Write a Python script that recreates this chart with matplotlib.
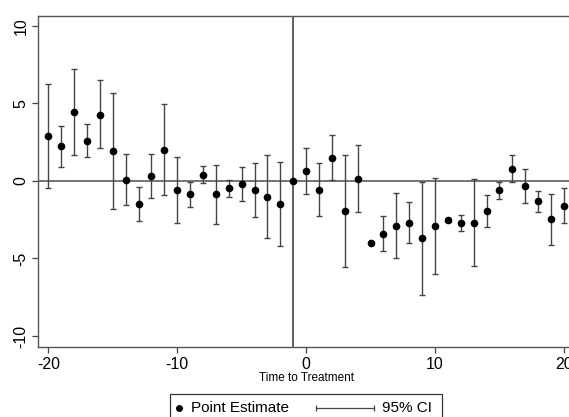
import numpy as np
import matplotlib
matplotlib.use("Agg")
import matplotlib.pyplot as plt
from matplotlib.lines import Line2D
from matplotlib.patches import Rectangle

plt.rcParams['font.family'] = ['Liberation Sans', 'DejaVu Sans']
plt.rcParams['axes.unicode_minus'] = False

# event-study estimates
t = np.arange(-20, 21)
est = [2.90, 2.25, 4.44, 2.60, 4.27, 1.93, 0.09, -1.46, 0.32, 2.02,
       -0.60, -0.86, 0.39, -0.84, -0.47, -0.17, -0.58, -1.03, -1.50, 0.0,
       0.64, -0.56, 1.50, -1.95, 0.13, -3.99, -3.39, -2.90, -2.70, -3.69,
       -2.88, -2.55, -2.68, -2.68, -1.95, -0.58, 0.79, -0.32, -1.31, -2.47,
       -1.59]
ci_hi = [6.27, 3.54, 7.23, 3.69, 6.50, 5.67, 1.74, -0.36, 1.72, 4.94,
         1.52, -0.06, 0.94, 1.05, 0.09, 0.90, 1.14, 1.67, 1.20, np.nan,
         2.15, 1.16, 2.94, 1.67, 2.32, -3.92, -2.25, -0.77, -1.37, -0.04,
         0.21, -2.48, -2.21, 0.11, -0.92, -0.04, 1.70, 0.79, -0.64, -0.82,
         -0.47]
ci_lo = [-0.45, 0.92, 1.67, 1.52, 2.10, -1.80, -1.55, -2.60, -1.07, -0.90,
         -2.70, -1.67, -0.11, -2.75, -1.01, -1.27, -2.30, -3.71, -4.18, np.nan,
         -0.82, -2.27, 0.04, -5.58, -2.02, -4.06, -4.53, -4.96, -4.01, -7.34,
         -5.99, -2.62, -3.20, -5.49, -2.98, -1.18, -0.09, -1.42, -1.97, -4.10,
         -2.68]
treat_time = -1

est = np.array(est)
ci_hi = np.array(ci_hi)
ci_lo = np.array(ci_lo)
ok = ~np.isnan(ci_hi)

W, H = 569, 417
fig = plt.figure(figsize=(W / 100, H / 100), dpi=100)
ax = fig.add_axes([38.3 / W, 1 - 346.7 / H, (574 - 38.3) / W, (346.7 - 16) / H])

gray = '#444444'
ax.axhline(0, color='#6e5555', lw=1.2, zorder=1)
ax.axvline(treat_time, color='#333333', lw=1.1, zorder=1)
ax.vlines(t[ok], ci_lo[ok], ci_hi[ok], color=gray, lw=1.0, zorder=2)
ax.plot(t[ok], ci_lo[ok], ls='none', marker='_', ms=5, mew=1.0, color=gray, zorder=2)
ax.plot(t[ok], ci_hi[ok], ls='none', marker='_', ms=5, mew=1.0, color=gray, zorder=2)
ax.plot(t, est, ls='none', marker='o', ms=4.5, color='black', zorder=3)

ax.set_xlim(-20.78, 20.78)
ax.set_ylim(-10.69, 10.64)
ax.set_xticks([-20, -10, 0, 10, 20])
ax.set_yticks([-10, -5, 0, 5, 10])
ax.tick_params(direction='out', length=4.5, width=0.9, color=gray, labelsize=11.5)
ax.tick_params(axis='x', pad=3)
ax.tick_params(axis='y', pad=2.5)
for lab in ax.get_yticklabels():
    lab.set_rotation(90)
    lab.set_va('center')
for s in ax.spines.values():
    s.set_color('#555555')
    s.set_linewidth(1.0)

fig.text(306.7 / W, 1 - 378.3 / H, 'Time to Treatment', ha='center', va='center', fontsize=8.5)

# legend box, Stata style
fig.add_artist(Rectangle((170 / W, 1 - 432 / H), (442 - 170) / W, (432 - 394) / H,
                         transform=fig.transFigure, fill=False, ec='#333333', lw=0.9))
ly = 1 - 408 / H
fig.add_artist(Line2D([179 / W], [ly], transform=fig.transFigure, marker='o', ms=4, color='black'))
fig.text(190.7 / W, ly, 'Point Estimate', ha='left', va='center', fontsize=11)
fig.add_artist(Line2D([316 / W, 374 / W], [ly, ly], transform=fig.transFigure,
                      color=gray, lw=0.9, marker='|', ms=5, mew=0.9))
fig.text(382 / W, ly, '95% CI', ha='left', va='center', fontsize=11)

fig.savefig('out.png', dpi=100)
